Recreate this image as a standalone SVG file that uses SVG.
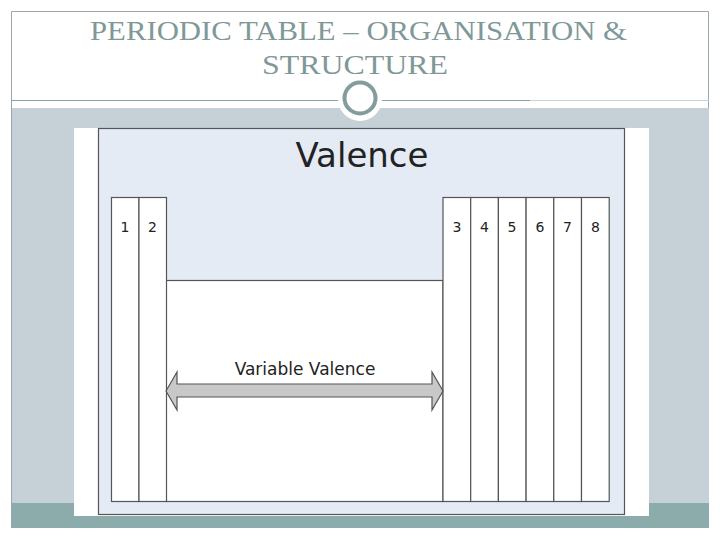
<svg xmlns="http://www.w3.org/2000/svg" width="720" height="540" viewBox="0 0 720 540">
<style>
.title{font-family:"Liberation Serif","Times New Roman",serif;font-size:28px;fill:#7f9898}
.lbl{font-family:"DejaVu Sans",Verdana,sans-serif;fill:#222;text-anchor:middle}
.col{fill:#ffffff;stroke:#555;stroke-width:1.2}
</style>
<rect x="0" y="0" width="720" height="540" fill="#ffffff"/>
<g id="frame">
<rect x="11" y="108" width="698" height="396" fill="#c6d1d7"/>
<rect x="11" y="503" width="698" height="25" fill="#8cabab"/>
<path d="M11.5 528 V11.5 H708.5 V108" fill="none" stroke="#9aa8aa" stroke-width="1"/>
<line x1="11" y1="100.5" x2="530" y2="100.5" stroke="#8fa0a2" stroke-width="1.2"/>
<line x1="530" y1="100.5" x2="709" y2="100.5" stroke="#c8d2d4" stroke-width="1"/>
<circle cx="360" cy="99" r="22" fill="#ffffff"/>
<circle cx="360" cy="98" r="15.5" fill="#ffffff" stroke="#849c9c" stroke-width="4"/>
</g>
<g id="title">
<text class="title" x="90" y="40" textLength="537" lengthAdjust="spacingAndGlyphs">PERIODIC TABLE – ORGANISATION &amp;</text>
<text class="title" x="262" y="74" textLength="186" lengthAdjust="spacingAndGlyphs">STRUCTURE</text>
</g>
<g id="panel">
<rect x="74" y="128" width="575" height="388" fill="#ffffff"/>
<rect x="98.5" y="128.5" width="526" height="386" fill="#e4ebf5" stroke="#555" stroke-width="1.2"/>
<text class="lbl" x="362" y="167" font-size="34">Valence</text>
</g>
<g id="middle">
<rect x="166" y="280.5" width="277" height="221" fill="#ffffff" stroke="#555" stroke-width="1.2"/>
</g>
<g id="group1"><rect class="col" x="111.5" y="197.5" width="27.5" height="304"/><text class="lbl" x="125" y="232" font-size="14">1</text></g>
<g id="group2"><rect class="col" x="139" y="197.5" width="27.5" height="304"/><text class="lbl" x="152.5" y="232" font-size="14">2</text></g>
<g id="group3"><rect class="col" x="443" y="197.5" width="27.7" height="304"/><text class="lbl" x="457" y="232" font-size="14">3</text></g>
<g id="group4"><rect class="col" x="470.7" y="197.5" width="27.7" height="304"/><text class="lbl" x="484.5" y="232" font-size="14">4</text></g>
<g id="group5"><rect class="col" x="498.4" y="197.5" width="27.7" height="304"/><text class="lbl" x="512" y="232" font-size="14">5</text></g>
<g id="group6"><rect class="col" x="526.1" y="197.5" width="27.7" height="304"/><text class="lbl" x="540" y="232" font-size="14">6</text></g>
<g id="group7"><rect class="col" x="553.8" y="197.5" width="27.7" height="304"/><text class="lbl" x="567.5" y="232" font-size="14">7</text></g>
<g id="group8"><rect class="col" x="581.5" y="197.5" width="27.7" height="304"/><text class="lbl" x="595.5" y="232" font-size="14">8</text></g>
<g id="connectors">
<polygon points="166,391 177,372 177,384 432,384 432,372 443,391 432,410 432,397 177,397 177,410" fill="#c8c8c8" stroke="#555" stroke-width="1.2"/>
<text class="lbl" x="305" y="375" font-size="17">Variable Valence</text>
</g>
</svg>
